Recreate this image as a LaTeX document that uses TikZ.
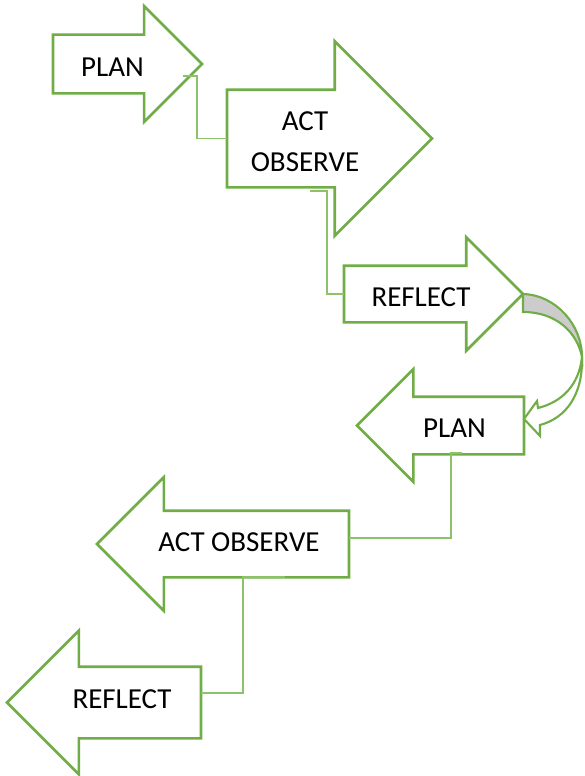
\documentclass[tikz,border=0pt]{standalone}
\usepackage{fontspec}
\setmainfont{Carlito}
\usepackage{tikz}
\usetikzlibrary{shapes.arrows,calc}
\definecolor{cyclegreen}{RGB}{112,173,71}
\definecolor{linkgreen}{RGB}{140,195,105}
\definecolor{backgrey}{RGB}{204,204,204}

\begin{document}
\begin{tikzpicture}[x=1pt, y=-1pt,
  stage/.style={single arrow, draw=cyclegreen, line width=2.6pt, fill=white,
                inner xsep=0pt, outer sep=0pt, minimum width=0pt, anchor=tail},
  lbl/.style={font=\fontsize{29}{41}\selectfont, inner sep=0pt, align=center},
  link/.style={draw=linkgreen, line width=1.2pt},
  turn/.style={draw=cyclegreen, line width=2.1pt}]
\useasboundingbox (0,0) rectangle (584,776);

% first cycle, pointing right
\node[stage, minimum height=149pt, inner ysep=28pt,   single arrow head extend=28.5pt] (plan1) at (53,64) {};
\node[stage, minimum height=205pt, inner ysep=47.5pt, single arrow head extend=48.5pt] (act1)  at (227,138.5) {};
\node[stage, minimum height=179pt, inner ysep=27pt,   single arrow head extend=28.5pt] (refl1) at (344,294) {};

% second cycle, pointing left
\node[stage, shape border rotate=180, minimum height=167pt, inner ysep=27.5pt, single arrow head extend=27.5pt] (plan2) at (524,425.5) {};
\node[stage, shape border rotate=180, minimum height=252pt, inner ysep=32pt,   single arrow head extend=33.5pt] (act2)  at (349,544) {};
\node[stage, shape border rotate=180, minimum height=194pt, inner ysep=34.5pt, single arrow head extend=36pt]   (refl2) at (201,702.5) {};

% turn from the first cycle to the second
\draw[turn, fill=backgrey]
  (refl1.tip) .. controls (556,295) and (582,325) .. (582,357)
  .. controls (577,332) and (556,312) .. (523,312) -- cycle;
\draw[turn, fill=white]
  (582,357) .. controls (583,395) and (566,418) .. (540,425)
  -- (540,436) -- (524,419) -- (537,401) -- (538,408)
  .. controls (562,402) and (579,385) .. (582,357) -- cycle;

% elbow links
\coordinate (plan1out) at (183,76);
\coordinate (act1out)  at (310,191);
\coordinate (plan2out) at (462,453);
\coordinate (act2out)  at (285,577);
\draw[link] (plan1out) -- ++(14,0) |- (act1.tail);
\draw[link] (act1out)  -- ++(17,0) |- (refl1.tail);
\draw[link] (plan2out) -- ++(-11,0) |- ($(act2.tail)+(0,-6)$);
\draw[link] (act2out)  -- ++(-42,0) |- ($(refl2.tail)+(0,-9.5)$);

% labels
\node[lbl, anchor=base] (plan1txt) at (112.5,76) {PLAN};
\node[lbl]              (act1txt)  at (305,141.5) {ACT\\OBSERVE};
\node[lbl, anchor=base] (refl1txt) at (421,306) {REFLECT};
\node[lbl, anchor=base] (plan2txt) at (454.5,437) {PLAN};
\node[lbl, anchor=base] (act2txt)  at (239,551) {ACT OBSERVE};
\node[lbl, anchor=base] (refl2txt) at (122,708) {REFLECT};
\end{tikzpicture}
\end{document}
